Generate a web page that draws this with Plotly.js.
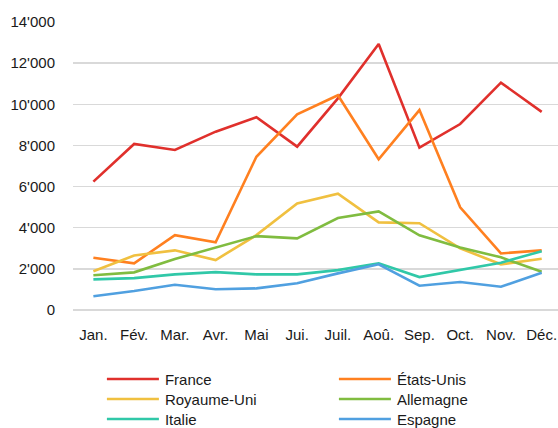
<!DOCTYPE html>
<html>
<head>
<meta charset="utf-8">
<script src="https://cdn.plot.ly/plotly-3.0.1.min.js"></script>
<style>
  html, body { margin: 0; padding: 0; background: #fff; }
  #chart { width: 558px; height: 428px; }
</style>
</head>
<body>
<div id="chart"></div>
<script>
const months = ["Jan.", "Fév.", "Mar.", "Avr.", "Mai", "Jui.", "Juil.", "Aoû.", "Sep.", "Oct.", "Nov.", "Déc."];

const france      = [6240, 8070, 7780, 8670, 9370, 7940, 10290, 12930, 7890, 9040, 11050, 9630];
const etatsUnis   = [2540, 2270, 3640, 3290, 7450, 9510, 10440, 7330, 9720, 4990, 2750, 2900];
const royaumeUni  = [1880, 2650, 2900, 2430, 3640, 5180, 5650, 4260, 4220, 3000, 2220, 2490];
const allemagne   = [1690, 1830, 2480, 3020, 3590, 3480, 4470, 4790, 3630, 3040, 2560, 1860];
const italie      = [1490, 1550, 1730, 1840, 1730, 1730, 1940, 2270, 1600, 1960, 2300, 2860];
const espagne     = [670, 920, 1230, 1010, 1050, 1300, 1780, 2220, 1180, 1360, 1130, 1810];

const seriesNames = ["France", "États-Unis", "Royaume-Uni", "Allemagne", "Italie", "Espagne"];
const seriesValues = [france, etatsUnis, royaumeUni, allemagne, italie, espagne];
const seriesColors = ["#e0302c", "#ff8020", "#f0c040", "#80bc40", "#30c8a8", "#50a0e0"];

const yTickVals = [0, 2000, 4000, 6000, 8000, 10000, 12000, 14000];
const yTickText = ["0", "2'000", "4'000", "6'000", "8'000", "10'000", "12'000", "14'000"];

const FONT = "Liberation Sans, Arial, sans-serif";

const traces = seriesNames.map((name, i) => ({
  type: "scatter",
  mode: "lines",
  name: name,
  x: months,
  y: seriesValues[i],
  line: { color: seriesColors[i], width: 2.6 },
  hoverinfo: "skip"
}));

const layout = {
  width: 558,
  height: 428,
  margin: { l: 73, r: 0, t: 22, b: 118, autoexpand: false },
  paper_bgcolor: "#ffffff",
  plot_bgcolor: "#ffffff",
  font: { family: FONT, size: 15, color: "#1a1a1a" },
  showlegend: true,
  xaxis: {
    type: "category",
    range: [-0.5, 11.4],
    showgrid: false,
    zeroline: false,
    showline: false,
    ticks: "outside",
    ticklen: 11,
    tickcolor: "rgba(0,0,0,0)",
    tickfont: { family: FONT, size: 15, color: "#1a1a1a" },
    fixedrange: true
  },
  yaxis: {
    range: [0, 14000],
    tickvals: yTickVals,
    ticktext: yTickText,
    showgrid: true,
    gridcolor: "#d9d9d9",
    gridwidth: 1.5,
    zeroline: true,
    zerolinecolor: "#d9d9d9",
    zerolinewidth: 1.5,
    showline: false,
    ticks: "outside",
    ticklen: 14,
    tickcolor: "rgba(0,0,0,0)",
    tickfont: { family: FONT, size: 15, color: "#1a1a1a" },
    fixedrange: true
  },
  legend: {
    orientation: "h",
    xref: "container",
    yref: "container",
    x: 0.188,
    xanchor: "left",
    y: 0.15,
    yanchor: "top",
    entrywidth: 167,
    entrywidthmode: "pixels",
    itemwidth: 50,
    font: { family: FONT, size: 15, color: "#1a1a1a" },
    bgcolor: "rgba(0,0,0,0)",
    borderwidth: 0,
    tracegroupgap: 0
  }
};

Plotly.newPlot("chart", traces, layout, { staticPlot: true, displayModeBar: false }).then(function (gd) {
  gd.querySelectorAll(".legendlines path").forEach(function (p) {
    p.setAttribute("d", "M2,0h52");
  });
  // tighten legend row spacing to match the reference (20px per row)
  const items = Array.from(gd.querySelectorAll(".legend .traces"));
  const parsed = items.map(function (g) {
    const m = /translate\(\s*([-\d.e]+)[ ,]+([-\d.e]+)\s*\)/.exec(g.getAttribute("transform") || "");
    return m ? { g: g, x: parseFloat(m[1]), y: parseFloat(m[2]) } : null;
  }).filter(Boolean);
  if (parsed.length) {
    const ys = Array.from(new Set(parsed.map(function (p) { return Math.round(p.y * 10) / 10; }))).sort(function (a, b) { return a - b; });
    const minY = ys[0];
    const step = ys.length > 1 ? ys[1] - ys[0] : 20;
    parsed.forEach(function (p) {
      const ny = minY + (p.y - minY) * (20 / step) - 1;
      p.g.setAttribute("transform", "translate(" + p.x + "," + ny + ")");
    });
  }
});
</script>
</body>
</html>
